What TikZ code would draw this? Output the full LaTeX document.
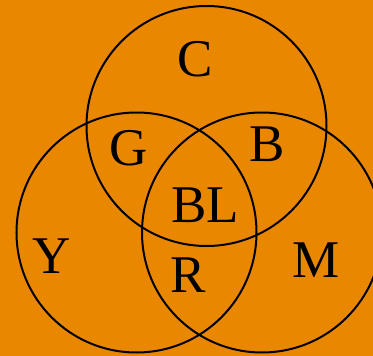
\documentclass[tikz,border=0pt]{standalone}
\usepackage{fontspec}
\setmainfont{Liberation Serif}
\definecolor{bgorange}{RGB}{233,136,0}
\tikzset{
  ring/.style={circle, draw=black, line width=2pt, minimum size=240pt, inner sep=0pt},
  lab/.style={anchor=base, inner sep=0pt, font=\fontsize{53}{60}\selectfont}
}
\begin{document}
\begin{tikzpicture}[x=1pt,y=-1pt]
\useasboundingbox (0,0) rectangle (373,356);
\fill[bgorange] (0,0) rectangle (373,356);
\begin{scope}
\clip (0,0) rectangle (373,356);
\node[ring] (top) at (206.5,126) {};
\node[ring] (left) at (136.5,232.5) {};
\node[ring] (right) at (262,232.5) {};
\end{scope}
\node[lab] (c) at (195,76) {C};
\node[lab] (g) at (129,165) {G};
\node[lab] (b) at (267,161) {B};
\node[lab] (bl) at (205,222.5) {BL};
\node[lab] (y) at (52,273) {Y};
\node[lab] (r) at (188,292) {R};
\node[lab] (m) at (316,277) {M};
\end{tikzpicture}
\end{document}
